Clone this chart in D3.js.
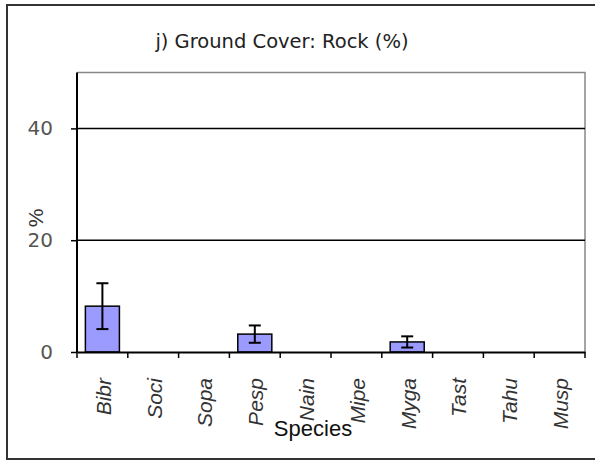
<!DOCTYPE html>
<html>
<head>
<meta charset="utf-8">
<script src="https://cdn.jsdelivr.net/npm/d3@7"></script>
<style>
  body { margin: 0; background: #fff; }
</style>
</head>
<body>
<div id="chart"></div>
<script>
const species = ['Bibr', 'Soci', 'Sopa', 'Pesp', 'Nain', 'Mipe', 'Myga', 'Tast', 'Tahu', 'Musp'];
const means = [8.2, 0, 0, 3.2, 0, 0, 1.8, 0, 0, 0];
const errors = [4.1, 0, 0, 1.55, 0, 0, 1.0, 0, 0, 0];
const yTicks = [0, 20, 40];

const width = 595, height = 463;
const plot = { left: 77, right: 585, top: 72.5, bottom: 352 };
const sans = '"Liberation Sans", Arial, sans-serif';
const dejavu = '"DejaVu Sans", Verdana, sans-serif';

const svg = d3.select('#chart').append('svg')
  .attr('width', width).attr('height', height)
  .style('font-family', sans);

// outer frame
svg.append('rect')
  .attr('x', 7).attr('y', 5).attr('width', 592).attr('height', 454)
  .attr('fill', 'none').attr('stroke', '#333').attr('stroke-width', 2);

svg.append('text')
  .attr('x', 282).attr('y', 48)
  .attr('text-anchor', 'middle')
  .style('font-family', dejavu)
  .attr('font-size', 19.5).attr('fill', '#222')
  .text('j) Ground Cover: Rock (%)');

const x = d3.scaleBand().domain(species).range([plot.left, plot.right]).padding(0);
const y = d3.scaleLinear().domain([0, 50]).range([plot.bottom, plot.top]);

// plot border (top and right)
svg.append('path')
  .attr('d', `M${plot.left},${plot.top}H${plot.right}V${plot.bottom}`)
  .attr('fill', 'none').attr('stroke', '#888').attr('stroke-width', 1.5);

// gridlines
svg.append('g').selectAll('line')
  .data(yTicks.filter(d => d > 0))
  .enter().append('line')
  .attr('x1', plot.left).attr('x2', plot.right)
  .attr('y1', d => y(d)).attr('y2', d => y(d))
  .attr('stroke', '#000').attr('stroke-width', 1.5);

// y axis
const yAxis = svg.append('g')
  .attr('transform', `translate(${plot.left},0)`)
  .call(d3.axisLeft(y).tickValues(yTicks).tickSize(6).tickPadding(18).tickFormat(d3.format('d')));
yAxis.select('.domain').attr('stroke', '#000').attr('stroke-width', 2).attr('d', `M0,${plot.top}V${plot.bottom}`);
yAxis.selectAll('.tick line').attr('stroke', '#000').attr('stroke-width', 1.5);
yAxis.selectAll('.tick text').attr('font-size', 20).attr('fill', '#555')
  .attr('font-family', dejavu);

svg.append('text')
  .attr('transform', 'translate(36,218) rotate(-90)')
  .attr('text-anchor', 'middle')
  .attr('dy', '0.35em')
  .attr('font-size', 21).attr('fill', '#333')
  .text('%');

// bars
const barW = x.bandwidth() * 0.67;
const bars = svg.append('g').selectAll('g')
  .data(species.map((s, i) => ({ s, m: means[i], e: errors[i] })))
  .enter().append('g');

bars.append('rect')
  .attr('x', d => x(d.s) + (x.bandwidth() - barW) / 2)
  .attr('y', d => y(d.m))
  .attr('width', barW)
  .attr('height', d => y(0) - y(d.m))
  .attr('fill', '#9a9aff').attr('stroke', '#000').attr('stroke-width', 1.5);

const eb = bars.filter(d => d.e > 0);
const cx = d => x(d.s) + x.bandwidth() / 2;
eb.append('line')
  .attr('x1', cx).attr('x2', cx)
  .attr('y1', d => y(d.m + d.e)).attr('y2', d => y(Math.max(0, d.m - d.e)))
  .attr('stroke', '#000').attr('stroke-width', 2);
eb.selectAll('.cap')
  .data(d => [d.m + d.e, Math.max(0, d.m - d.e)].map(v => ({ s: d.s, v })))
  .enter().append('line')
  .attr('x1', d => cx(d) - 6).attr('x2', d => cx(d) + 6)
  .attr('y1', d => y(d.v)).attr('y2', d => y(d.v))
  .attr('stroke', '#000').attr('stroke-width', 2);

// x axis
const xAxis = svg.append('g')
  .attr('transform', `translate(0,${plot.bottom})`)
  .call(d3.axisBottom(x).tickSize(0).tickPadding(0));
xAxis.select('.domain').attr('stroke', '#000').attr('stroke-width', 2);
xAxis.selectAll('.tick text')
  .attr('transform', 'translate(1,26) rotate(-90)')
  .attr('text-anchor', 'end')
  .attr('dy', '0.35em').attr('y', 0)
  .attr('font-size', 21).attr('font-style', 'italic').attr('fill', '#333')
  .attr('font-family', sans);

svg.append('g').selectAll('line')
  .data(species.map(s => x(s)).concat([plot.right]))
  .enter().append('line')
  .attr('x1', d => d).attr('x2', d => d)
  .attr('y1', plot.bottom).attr('y2', plot.bottom + 6)
  .attr('stroke', '#000').attr('stroke-width', 1.5);

svg.append('text')
  .attr('x', 313).attr('y', 436)
  .attr('text-anchor', 'middle')
  .attr('font-size', 22).attr('fill', '#111')
  .text('Species');
</script>
</body>
</html>
